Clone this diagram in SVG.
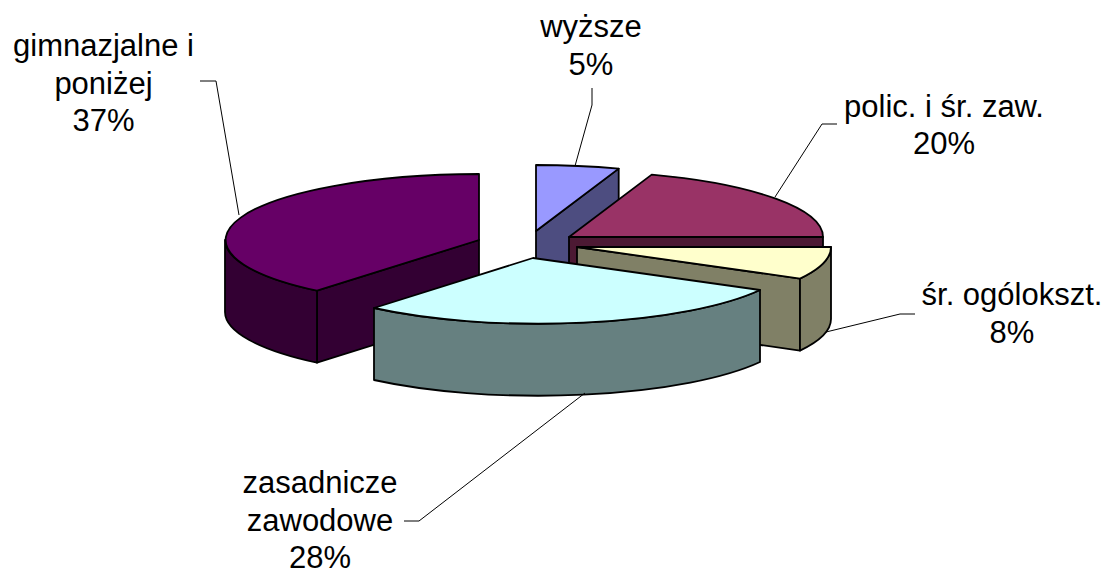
<svg xmlns="http://www.w3.org/2000/svg" width="1114" height="574" viewBox="0 0 1114 574">
<style>
.s{stroke:#000;stroke-width:1.8;stroke-linejoin:round}
.ld{fill:none;stroke:#000;stroke-width:1}
text{font-family:"Liberation Sans",Arial,sans-serif;font-size:31px;fill:#000;text-anchor:middle}
</style>
<rect width="1114" height="574" fill="#fff"/>
<g id="slice-wyzsze">
<path class="s" fill="#4D4D80" d="M536,231 L618.7,168.6 L618.7,240.6 L536,303 Z"/>
<path class="s" fill="#9999FF" d="M536,231 L536,165 A254,66 0 0 1 618.7,168.6 Z"/>
</g>
<g id="slice-polic">
<path class="s" fill="#4C1933" d="M569,237 L823,237 L823,309 L569,309 Z"/>
<path class="s" fill="#993366" d="M569,237 L651.7,174.6 A254,66 0 0 1 823,237 Z"/>
</g>
<g id="slice-ogolokszt">
<path class="s" fill="#808066" d="M577,247 L800,278.6 L800,350.6 L577,319 Z"/>
<path class="s" fill="#808066" d="M831,247 A254,66 0 0 1 800,278.6 L800,350.6 A254,66 0 0 0 831,319 Z"/>
<path class="s" fill="#FFFFCC" d="M577,247 L831,247 A254,66 0 0 1 800,278.6 Z"/>
</g>
<g id="slice-gimnazjalne">
<path class="s" fill="#330033" d="M479,240 L317,290.7 L317,362.7 L479,312 Z"/>
<path class="s" fill="#330033" d="M317,290.7 A254,66 0 0 1 225,240 L225,312 A254,66 0 0 0 317,362.7 Z"/>
<path class="s" fill="#660066" d="M479,240 L317,290.7 A254,66 0 0 1 479,174 Z"/>
</g>
<g id="slice-zasadnicze">
<path class="s" fill="#668080" d="M760,290 A254,66 0 0 1 374,308 L374,380 A254,66 0 0 0 760,362 Z"/>
<path class="s" fill="#CCFFFF" d="M533,258 L760,290 A254,66 0 0 1 374,308 Z"/>
</g>
<g id="connectors">
<polyline class="ld" points="200,81 216,81 239,215"/>
<polyline class="ld" points="592,88 592,105 575,166"/>
<polyline class="ld" points="837,124 822,124 775,197"/>
<polyline class="ld" points="915,314 900,314 826,332"/>
<polyline class="ld" points="404,521 419,521 585,393"/>
</g>
<g id="labels">
<text x="103.5" y="56">gimnazjalne i</text>
<text x="103.5" y="93.5">poniżej</text>
<text x="103.5" y="131">37%</text>
<text x="591" y="37">wyższe</text>
<text x="591" y="75">5%</text>
<text x="944" y="117">polic. i śr. zaw.</text>
<text x="944" y="154">20%</text>
<text x="1012" y="305">śr. ogólokszt.</text>
<text x="1012" y="343">8%</text>
<text x="320" y="493">zasadnicze</text>
<text x="320" y="531">zawodowe</text>
<text x="320" y="568">28%</text>
</g>
</svg>
